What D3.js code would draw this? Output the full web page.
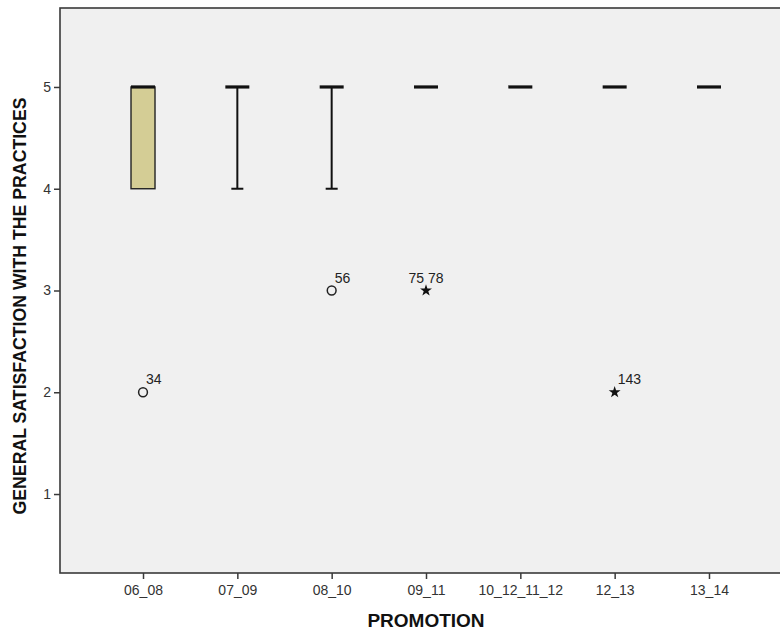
<!DOCTYPE html>
<html>
<head>
<meta charset="utf-8">
<script src="https://cdn.jsdelivr.net/npm/d3@7/dist/d3.min.js"></script>
<style>
  html, body { margin: 0; padding: 0; background: #fff; }
  svg { display: block; }
</style>
</head>
<body>
<svg id="chart" width="780" height="632"></svg>
<script>
// Box summaries per promotion
const categories = ["06_08", "07_09", "08_10", "09_11", "10_12_11_12", "12_13", "13_14"];
const q1         = [4, 5, 5, 5, 5, 5, 5];
const median     = [5, 5, 5, 5, 5, 5, 5];
const q3         = [5, 5, 5, 5, 5, 5, 5];
const whiskerLow = [4, 4, 4, 5, 5, 5, 5];
const whiskerHigh= [5, 5, 5, 5, 5, 5, 5];

// Outliers (circle) and extreme values (star) with case numbers
const outlierCategory = ["06_08", "08_10", "09_11", "12_13"];
const outlierValue    = [2, 3, 3, 2];
const outlierKind     = ["circle", "circle", "star", "star"];
const outlierCases    = [["34"], ["56"], ["75", "78"], ["143"]];

const yTicks = [1, 2, 3, 4, 5];

const svg = d3.select("#chart");
const frame = { left: 60, top: 8, right: 792, bottom: 573 };
const font = "Arial, 'Liberation Sans', sans-serif";

const x = d3.scalePoint()
  .domain(categories)
  .range([frame.left, frame.right])
  .padding(0.88);

const y = d3.scaleLinear()
  .domain([0.224, 5.776])
  .range([frame.bottom, frame.top]);

// plot background
svg.append("rect")
  .attr("x", frame.left).attr("y", frame.top)
  .attr("width", frame.right - frame.left)
  .attr("height", frame.bottom - frame.top)
  .attr("fill", "#f0f0f0")
  .attr("stroke", "#3a3a3a")
  .attr("stroke-width", 1.6);

// axes
const yAxis = d3.axisLeft(y).tickValues(yTicks).tickSize(6).tickPadding(3).tickFormat(d3.format("d"));
const gy = svg.append("g").attr("transform", `translate(${frame.left},0)`).call(yAxis);
const xAxis = d3.axisBottom(x).tickSize(6).tickPadding(4);
const gx = svg.append("g").attr("transform", `translate(0,${frame.bottom})`).call(xAxis);

[gy, gx].forEach(g => {
  g.select(".domain").remove();
  g.selectAll(".tick line").attr("stroke", "#3a3a3a").attr("stroke-width", 1.5);
  g.selectAll(".tick text")
    .attr("fill", "#333")
    .style("font-family", font)
    .style("font-size", "14px");
});
gx.selectAll(".tick text").attr("dy", "0.85em");

// boxes
const boxW = 24, capW = 12;
const rows = categories.map((c, i) => ({
  c, q1: q1[i], med: median[i], q3: q3[i], lo: whiskerLow[i], hi: whiskerHigh[i]
}));

const gb = svg.append("g");
rows.forEach(r => {
  const cx = x(r.c);
  // whiskers
  if (r.lo < r.q1) {
    gb.append("line").attr("x1", cx).attr("x2", cx)
      .attr("y1", y(r.q1)).attr("y2", y(r.lo))
      .attr("stroke", "#111").attr("stroke-width", 2);
    gb.append("line").attr("x1", cx - capW / 2).attr("x2", cx + capW / 2)
      .attr("y1", y(r.lo)).attr("y2", y(r.lo))
      .attr("stroke", "#111").attr("stroke-width", 2);
  }
  if (r.hi > r.q3) {
    gb.append("line").attr("x1", cx).attr("x2", cx)
      .attr("y1", y(r.q3)).attr("y2", y(r.hi))
      .attr("stroke", "#111").attr("stroke-width", 2);
    gb.append("line").attr("x1", cx - capW / 2).attr("x2", cx + capW / 2)
      .attr("y1", y(r.hi)).attr("y2", y(r.hi))
      .attr("stroke", "#111").attr("stroke-width", 2);
  }
  // box
  if (r.q3 > r.q1) {
    gb.append("rect")
      .attr("x", cx - boxW / 2).attr("y", y(r.q3))
      .attr("width", boxW).attr("height", y(r.q1) - y(r.q3))
      .attr("fill", "#d4cd95")
      .attr("stroke", "#222").attr("stroke-width", 1.4);
  }
  // median
  gb.append("line")
    .attr("x1", cx - boxW / 2).attr("x2", cx + boxW / 2)
    .attr("y1", y(r.med)).attr("y2", y(r.med))
    .attr("stroke", "#111").attr("stroke-width", 3.2);
});

// outliers
const star = d3.symbol().type(d3.symbolStar).size(44);
const go = svg.append("g");
outlierCategory.forEach((c, i) => {
  const px = x(c), py = y(outlierValue[i]);
  if (outlierKind[i] === "circle") {
    go.append("circle").attr("cx", px).attr("cy", py).attr("r", 4.4)
      .attr("fill", "none").attr("stroke", "#222").attr("stroke-width", 1.5);
  } else {
    go.append("path").attr("d", star).attr("transform", `translate(${px},${py})`)
      .attr("fill", "#111");
  }
  const ids = outlierCases[i];
  const t = go.append("text")
    .attr("y", py - 8)
    .attr("fill", "#222")
    .style("font-family", font)
    .style("font-size", "14px")
    .text(ids.join(" "));
  if (ids.length > 1) {
    t.attr("x", px).attr("text-anchor", "middle");
  } else {
    t.attr("x", px + 3).attr("text-anchor", "start");
  }
});

// axis titles
svg.append("text")
  .attr("x", x("09_11")).attr("y", 627)
  .attr("text-anchor", "middle")
  .style("font-family", font)
  .style("font-size", "19px").style("font-weight", "bold")
  .attr("fill", "#111")
  .text("PROMOTION");

svg.append("text")
  .attr("transform", `translate(26,306) rotate(-90)`)
  .attr("text-anchor", "middle")
  .style("font-family", font)
  .style("font-size", "17.7px").style("font-weight", "bold")
  .attr("fill", "#111")
  .text("GENERAL SATISFACTION WITH THE PRACTICES");
</script>
</body>
</html>
